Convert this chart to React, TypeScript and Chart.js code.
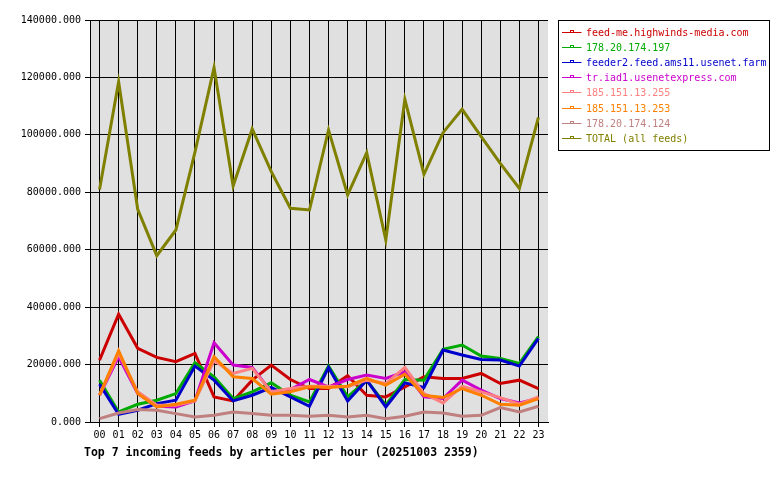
import React, { useEffect, useRef } from "react";
import { Chart, registerables } from "chart.js";

Chart.register(...registerables);

const hours = ["00","01","02","03","04","05","06","07","08","09","10","11","12","13","14","15","16","17","18","19","20","21","22","23"];

const feedNames = [
  "feed-me.highwinds-media.com",
  "178.20.174.197",
  "feeder2.feed.ams11.usenet.farm",
  "tr.iad1.usenetexpress.com",
  "185.151.13.255",
  "185.151.13.253",
  "178.20.174.124",
  "TOTAL (all feeds)",
];

const feedColors = ["#cc0000", "#00aa00", "#0000cc", "#cc00cc", "#ff8080", "#ff8000", "#c08080", "#808000"];

const highwinds = [21570,37550,25650,22500,20990,23900,8745,7350,14575,19820,14800,11660,11660,16090,9330,8745,12240,15740,15160,15160,16900,13400,14575,11660];
const ip197 = [14575,3500,6180,7580,9900,20640,15740,8160,10500,13640,9330,7000,19470,8745,14575,5830,14800,14575,25300,26820,22970,22150,20400,29730];
const feeder2 = [13180,2680,4080,6410,7580,19470,14575,7350,9330,12010,8745,5480,19000,7350,14575,5250,13640,12010,25070,23320,21800,21570,19470,29150];
const usenetexpress = [9330,22740,9900,5480,5250,7350,27630,19820,19000,10500,11310,14800,12240,14800,16320,15160,17490,8745,8160,14575,11080,8160,6650,8160];
const ip255 = [9330,23900,10500,5830,5830,7350,21340,16900,18660,10500,11660,12480,12480,12240,14575,13400,19000,9900,6650,12480,10500,8510,6180,8745];
const ip253 = [9330,24840,9900,5250,6180,7580,22740,15740,15160,9680,10500,12240,12010,12480,15160,12830,16670,9330,8510,11660,9330,6180,5830,8160];
const ip124 = [1170,3150,4310,4080,2920,1750,2330,3500,2920,2330,2330,1980,2330,1750,2330,1170,1980,3500,3150,1980,2330,5010,3500,5480];
const total = [81000,118500,74070,57920,66870,94000,123400,82190,102040,87170,74420,73830,101690,79060,93790,63380,112380,86260,100760,108900,99360,90090,81380,106110];

const seriesValues = [highwinds, ip197, feeder2, usenetexpress, ip255, ip253, ip124, total];

const yMax = 140000;
const yStep = 20000;
const titleText = "Top 7 incoming feeds by articles per hour (20251003 2359)";

const MONO = "'DejaVu Sans Mono', 'Liberation Mono', monospace";

const bgPlugin = {
  id: "plotBg",
  beforeDraw(chart: any) {
    const { ctx, chartArea } = chart;
    ctx.save();
    ctx.fillStyle = "#ffffff";
    ctx.fillRect(0, 0, chart.width, chart.height);
    ctx.fillStyle = "#e0e0e0";
    ctx.fillRect(chartArea.left, chartArea.top, chartArea.right - chartArea.left, chartArea.bottom - chartArea.top);
    ctx.restore();
  },
};

const legendTitlePlugin = {
  id: "legendTitle",
  afterDraw(chart: any) {
    const { ctx, chartArea } = chart;
    ctx.save();
    // legend box
    const bx = chartArea.right + 10.5;
    const by = chartArea.top + 0.5;
    const bw = 211;
    const bh = 130;
    ctx.fillStyle = "#ffffff";
    ctx.fillRect(bx, by, bw, bh);
    ctx.strokeStyle = "#000000";
    ctx.lineWidth = 1;
    ctx.strokeRect(bx, by, bw, bh);
    ctx.font = "10px " + MONO;
    ctx.textBaseline = "middle";
    ctx.textAlign = "left";
    chart.data.datasets.forEach((ds: any, i: number) => {
      const y = Math.round(chartArea.top + 12 + i * 15.1) + 0.5;
      ctx.strokeStyle = ds.borderColor;
      ctx.lineWidth = 1;
      ctx.beginPath();
      ctx.moveTo(bx + 3.5, y);
      ctx.lineTo(bx + 23, y);
      ctx.stroke();
      ctx.strokeRect(bx + 12, y - 2, 3, 2);
      ctx.fillStyle = ds.borderColor;
      ctx.fillText(ds.label, bx + 27.5, y + 0.5);
    });
    // title
    ctx.fillStyle = "#000000";
    ctx.font = "bold 11.5px " + MONO;
    ctx.textBaseline = "middle";
    ctx.fillText(titleText, chartArea.left - 6, chartArea.bottom + 31);
    ctx.restore();
  },
};

export default function App() {
  const ref = useRef<HTMLCanvasElement | null>(null);
  useEffect(() => {
    document.body.style.margin = "0";
    const canvas = ref.current;
    if (!canvas) return;
    const n = seriesValues.length;
    const chart = new Chart(canvas, {
      type: "line",
      data: {
        labels: hours,
        datasets: seriesValues.map((vals, i) => ({
          label: feedNames[i],
          data: vals,
          borderColor: feedColors[i],
          backgroundColor: feedColors[i],
          borderWidth: 3,
          pointRadius: 0,
          tension: 0,
          fill: false,
          order: n - i,
        })),
      },
      options: {
        responsive: false,
        animation: false,
        events: [],
        layout: { padding: { top: 20, right: 232, left: 0, bottom: 0 } },
        plugins: { legend: { display: false }, tooltip: { enabled: false }, title: { display: false } },
        scales: {
          x: {
            offset: true,
            grid: { color: "#000000", offset: false, tickLength: 5, drawTicks: true },
            border: { color: "#000000", width: 1 },
            ticks: { color: "#000000", font: { family: MONO, size: 10 }, padding: 2, maxRotation: 0, autoSkip: false },
            afterFit(scale: any) { scale.height = 58; },
          },
          y: {
            min: 0,
            max: yMax,
            grid: { color: "#000000", tickLength: 5, drawTicks: true },
            border: { color: "#000000", width: 1 },
            ticks: {
              stepSize: yStep,
              color: "#000000",
              font: { family: MONO, size: 10 },
              padding: 4,
              callback: (v: any) => Number(v).toFixed(3),
            },
            afterFit(scale: any) { scale.width = 90; },
          },
        },
      },
      plugins: [bgPlugin, legendTitlePlugin],
    });
    return () => chart.destroy();
  }, []);
  return (
    <div style={{ width: 780, height: 480, position: "relative" }}>
      <canvas ref={ref} width={780} height={480} style={{ display: "block", width: 780, height: 480 }} />
    </div>
  );
}
